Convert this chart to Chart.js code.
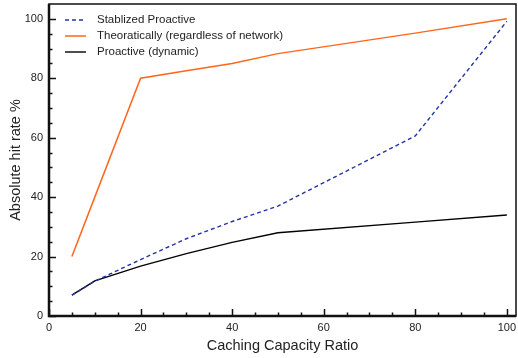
<!DOCTYPE html>
<html>
<head>
<meta charset="utf-8">
<script src="https://cdn.jsdelivr.net/npm/chart.js@4/dist/chart.umd.min.js"></script>
<style>
  html, body { margin: 0; padding: 0; background: #fff; }
  #wrap { width: 518px; height: 358px; }
</style>
</head>
<body>
<div id="wrap"><canvas id="myChart" width="518" height="358"></canvas></div>
<script>
// capacity ratios on the x axis
const ratios = [5, 10, 20, 30, 40, 50, 80, 100];

// hit rate % for each curve
const stabilized = [7, 11.7, 19, 26, 31.8, 37, 60.6, 99.2];
const theoretical = [20, 40, 80, 82.5, 85, 88.3, 95.2, 100];
const dynamic = [7, 11.8, 16.8, 21, 24.8, 28, 31.6, 34];

const xTicks = [0, 20, 40, 60, 80, 100];
const yTicks = [0, 20, 40, 60, 80, 100];

const FONT = "'Liberation Sans', Arial, Helvetica, sans-serif";

function pts(ys) {
  return ratios.map((x, i) => ({ x: x, y: ys[i] }));
}

// inward ticks, frame and the legend inside the plot box
const framePlugin = {
  id: 'frame',
  afterDraw(chart) {
    const ctx = chart.ctx;
    const a = chart.chartArea;
    const xs = chart.scales.x, ys = chart.scales.y;
    ctx.save();
    ctx.strokeStyle = '#111';
    ctx.lineWidth = 1.5;
    for (let v = 0; v <= 100; v += 5) {
      const len = v % 20 === 0 ? 7 : 3.5;
      const px = Math.round(xs.getPixelForValue(v)) + 0.5;
      ctx.beginPath(); ctx.moveTo(px, a.bottom); ctx.lineTo(px, a.bottom - len); ctx.stroke();
      const py = Math.round(ys.getPixelForValue(v)) + 0.5;
      ctx.beginPath(); ctx.moveTo(a.left, py); ctx.lineTo(a.left + len, py); ctx.stroke();
    }
    ctx.lineWidth = 1.5;
    ctx.strokeRect(a.left, a.top, a.right - a.left, a.bottom - a.top);
    ctx.lineWidth = 2.5;
    ctx.beginPath();
    ctx.moveTo(a.left, a.top); ctx.lineTo(a.left, a.bottom); ctx.lineTo(a.right, a.bottom);
    ctx.stroke();

    ctx.font = '11.5px ' + FONT;
    ctx.textBaseline = 'middle';
    chart.data.datasets.forEach((ds, i) => {
      const y = 20 + i * 16;
      ctx.strokeStyle = ds.borderColor;
      ctx.lineWidth = ds.borderWidth;
      ctx.setLineDash(ds.borderDash || []);
      ctx.beginPath(); ctx.moveTo(65, y); ctx.lineTo(86, y); ctx.stroke();
      ctx.setLineDash([]);
      ctx.fillStyle = '#222';
      ctx.fillText(ds.label, 97, y);
    });
    ctx.restore();
  }
};

new Chart(document.getElementById('myChart'), {
  type: 'line',
  data: {
    datasets: [
      {
        label: 'Stablized Proactive',
        data: pts(stabilized),
        borderColor: '#2233a6',
        borderWidth: 1.4,
        borderDash: [4, 3],
        pointRadius: 0,
        tension: 0,
        fill: false
      },
      {
        label: 'Theoratically (regardless of network)',
        data: pts(theoretical),
        borderColor: '#ff661a',
        borderWidth: 1.5,
        pointRadius: 0,
        tension: 0,
        fill: false
      },
      {
        label: 'Proactive (dynamic)',
        data: pts(dynamic),
        borderColor: '#000000',
        borderWidth: 1.4,
        pointRadius: 0,
        tension: 0,
        fill: false
      }
    ]
  },
  options: {
    responsive: false,
    animation: false,
    layout: { padding: { top: 4, right: 2, left: 0, bottom: 0 } },
    plugins: {
      legend: { display: false },
      tooltip: { enabled: false }
    },
    scales: {
      x: {
        type: 'linear',
        min: 0,
        max: 102,
        afterFit(scale) {
          scale.height = 42;
          scale.paddingLeft = 0;
          scale.paddingRight = 0;
        },
        afterBuildTicks(scale) { scale.ticks = xTicks.map(v => ({ value: v })); },
        grid: { display: false, drawTicks: false },
        border: { display: false },
        ticks: {
          color: '#222',
          padding: 5,
          maxRotation: 0,
          font: { family: FONT, size: 11 }
        },
        title: {
          display: true,
          text: 'Caching Capacity Ratio',
          color: '#222',
          padding: { top: 0, bottom: 3 },
          font: { family: FONT, size: 14.5 }
        }
      },
      y: {
        type: 'linear',
        min: 0,
        max: 105,
        afterFit(scale) {
          scale.width = 49;
          scale.paddingTop = 0;
          scale.paddingBottom = 0;
        },
        afterBuildTicks(scale) { scale.ticks = yTicks.map(v => ({ value: v })); },
        grid: { display: false, drawTicks: false },
        border: { display: false },
        ticks: {
          color: '#222',
          padding: 6,
          font: { family: FONT, size: 11 }
        },
        title: {
          display: true,
          text: 'Absolute hit rate %',
          color: '#222',
          padding: { top: 7, bottom: 0 },
          font: { family: FONT, size: 14.5 }
        }
      }
    }
  },
  plugins: [framePlugin]
});
</script>
</body>
</html>
